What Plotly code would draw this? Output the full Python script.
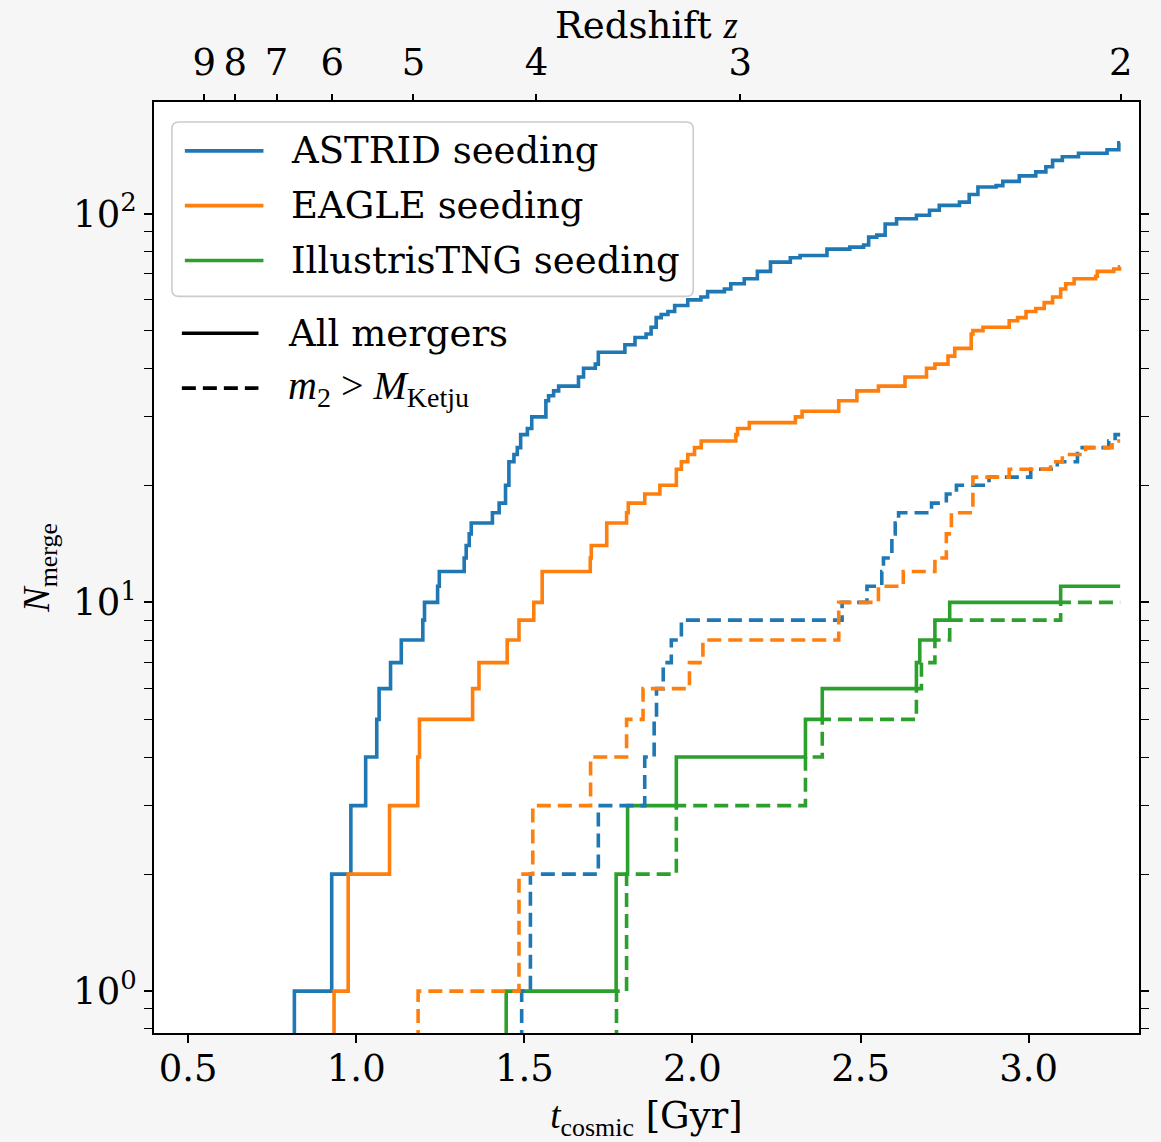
import plotly.graph_objects as go

# ---------------- data ----------------
T_END = 3.272  # cosmic time at z = 2 (end of the curves), Gyr

astrid_all_t = [0.816, 0.927, 0.984, 1.028, 1.061, 1.068, 1.102, 1.134, 1.198, 1.203,
                1.242, 1.247, 1.321, 1.327, 1.336, 1.342, 1.405, 1.425, 1.444, 1.454,
                1.469, 1.479, 1.489, 1.509, 1.522, 1.564, 1.572, 1.587, 1.602, 1.661,
                1.676, 1.711, 1.720, 1.799, 1.829, 1.862, 1.877, 1.892, 1.907, 1.927,
                1.947, 1.986, 2.025, 2.045, 2.095, 2.114, 2.154, 2.193, 2.232, 2.291,
                2.320, 2.400, 2.468, 2.509, 2.524, 2.548, 2.573, 2.607, 2.666, 2.705,
                2.734, 2.794, 2.823, 2.849, 2.903, 2.923, 2.972, 3.021, 3.051, 3.071,
                3.100, 3.148, 3.233, 3.268]
astrid_all_n = [1, 2, 3, 4, 5, 6, 7, 8, 9, 10,
                11, 12, 13, 14, 15, 16, 17, 18, 20, 23,
                24, 25, 27, 28, 30, 33, 34, 35, 36, 38,
                40, 41, 44, 46, 48, 49, 51, 54, 55, 56,
                58, 60, 61, 63, 64, 66, 68, 71, 75, 77,
                78, 81, 82, 83, 87, 88, 94, 97, 99, 102,
                105, 107, 112, 117, 118, 121, 125, 128, 132, 137,
                140, 143, 146, 152]

eagle_all_t = [0.934, 0.976, 1.099, 1.183, 1.188, 1.346, 1.365, 1.449, 1.484, 1.528,
               1.553, 1.696, 1.699, 1.745, 1.804, 1.809, 1.858, 1.903, 1.952, 1.967,
               1.986, 2.006, 2.026, 2.129, 2.134, 2.169, 2.306, 2.326, 2.435, 2.489,
               2.553, 2.632, 2.696, 2.721, 2.760, 2.780, 2.829, 2.834, 2.864, 2.942,
               2.967, 2.992, 3.021, 3.046, 3.071, 3.095, 3.110, 3.135, 3.199, 3.204,
               3.253, 3.270]
eagle_all_n = [1, 2, 3, 4, 5, 6, 7, 8, 9, 10,
               12, 13, 14, 16, 17, 18, 19, 20, 22, 23,
               24, 25, 26, 27, 28, 29, 30, 31, 33, 35,
               36, 38, 40, 41, 43, 45, 49, 50, 51, 53,
               54, 56, 57, 59, 61, 64, 66, 68, 69, 71,
               72, 73]

tng_all_t = [1.446, 1.773, 1.807, 1.952, 2.336, 2.386, 2.666, 2.676, 2.721, 2.765, 3.095]
tng_all_n = [1, 2, 3, 4, 5, 6, 7, 8, 9, 10, 11]

astrid_big_t = [1.492, 1.518, 1.720, 1.858, 1.886, 1.893, 1.913, 1.937, 1.967, 2.445,
                2.519, 2.563, 2.568, 2.593, 2.603, 2.613, 2.711, 2.755, 2.785, 2.882,
                3.006, 3.085, 3.145, 3.238, 3.257]
astrid_big_n = [1, 2, 3, 4, 5, 6, 7, 8, 9, 10,
                11, 12, 13, 15, 16, 17, 18, 19, 20, 21,
                22, 23, 25, 26, 27]

eagle_big_t = [1.184, 1.484, 1.525, 1.697, 1.804, 1.853, 1.991, 2.031, 2.435, 2.553,
               2.627, 2.721, 2.755, 2.770, 2.834, 2.942, 3.065, 3.100, 3.169, 3.248]
eagle_big_n = [1, 2, 3, 4, 5, 6, 7, 8, 10, 11,
               12, 13, 15, 17, 21, 22, 23, 24, 25, 26]

tng_big_t = [1.774, 1.804, 1.952, 2.336, 2.386, 2.666, 2.681, 2.721, 2.765, 3.095]
tng_big_n = [1, 2, 3, 4, 5, 6, 7, 8, 9, 10]

# top axis: redshift ticks and their cosmic time (Gyr)
z_labels = ["9", "8", "7", "6", "5", "4", "3", "2"]
z_tick_t = [0.548, 0.640, 0.763, 0.929, 1.170, 1.536, 2.142, 3.274]

x_tickvals = [0.5, 1.0, 1.5, 2.0, 2.5, 3.0]
x_ticktext = ["0.5", "1.0", "1.5", "2.0", "2.5", "3.0"]
y_tickvals = [1, 10, 100]
y_ticktext = ["10<sup>0</sup>", "10<sup>1</sup>", "10<sup>2</sup>"]

BLUE, ORANGE, GREEN = "#1f77b4", "#ff7f0e", "#2ca02c"
DASH = "14px,7px"
LW = 3.6
N_ZERO = 0.1  # stand-in for zero mergers (below the log axis)

SERIF = "DejaVu Serif"
MATH = "Liberation Serif"
FS = 37

# ---------------- figure ----------------
W, H = 1161, 1142
ML, MR, MT, MB = 154, 17, 102, 106
X_RANGE = [0.3985, 3.328]
Y_RANGE = [-0.1077, 2.287]

fig = go.Figure()

series = [
    (astrid_all_t, astrid_all_n, BLUE, "solid"),
    (eagle_all_t, eagle_all_n, ORANGE, "solid"),
    (tng_all_t, tng_all_n, GREEN, "solid"),
    (astrid_big_t, astrid_big_n, BLUE, DASH),
    (eagle_big_t, eagle_big_n, ORANGE, DASH),
    (tng_big_t, tng_big_n, GREEN, DASH),
]
for t, n, col, dash in series:
    xs = [t[0]] + list(t) + [T_END]
    ys = [N_ZERO] + list(n) + [n[-1]]
    fig.add_trace(go.Scatter(x=xs, y=ys, mode="lines",
                             line=dict(color=col, width=LW, dash=dash, shape="hv"),
                             showlegend=False, hoverinfo="skip"))

# invisible trace to anchor the top (redshift) axis
fig.add_trace(go.Scatter(x=z_tick_t, y=[1] * len(z_tick_t), xaxis="x2", yaxis="y",
                         mode="markers", marker=dict(opacity=0), showlegend=False,
                         hoverinfo="skip"))

tickfont = dict(family=SERIF, size=FS, color="black")

fig.update_layout(
    width=W, height=H,
    margin=dict(l=ML, r=MR, t=MT, b=MB, pad=0),
    paper_bgcolor="#f6f6f6",
    plot_bgcolor="white",
    xaxis=dict(
        range=X_RANGE, tickvals=x_tickvals, ticktext=x_ticktext,
        ticks="outside", ticklen=8, tickwidth=1.6, tickcolor="black",
        showline=True, linecolor="black", linewidth=1.8, mirror=True,
        showgrid=False, zeroline=False, tickfont=tickfont, ticklabelstandoff=-6,
        title=dict(text="<span style='font-family:Liberation Serif'><i>t</i><sub>cosmic</sub></span> [Gyr]",
                   font=dict(family=SERIF, size=FS, color="black"), standoff=14),
    ),
    xaxis2=dict(
        overlaying="x", side="top", range=X_RANGE,
        tickvals=z_tick_t, ticktext=z_labels,
        ticks="outside", ticklen=7, tickwidth=1.6, tickcolor="black",
        showline=False, showgrid=False, zeroline=False, tickfont=tickfont,
        ticklabelstandoff=4,
    ),
    yaxis=dict(
        type="log", range=Y_RANGE, tickvals=y_tickvals, ticktext=y_ticktext,
        ticks="outside", ticklen=8, tickwidth=1.6, tickcolor="black",
        showline=True, linecolor="black", linewidth=1.8, mirror="allticks",
        showgrid=False, zeroline=False, tickfont=tickfont,
        minor=dict(ticks="outside", ticklen=4.5, tickwidth=1.2, tickcolor="black",
                   dtick="D1", showgrid=False),
        title=dict(text="<i>N</i><sub>merge</sub>",
                   font=dict(family=MATH, size=FS, color="black"), standoff=12),
    ),
)


def px(x, y):
    """pixel position in the page -> paper coordinates"""
    pw = W - ML - MR
    ph = H - MT - MB
    return (x - ML) / pw, (H - MB - y) / ph


shapes = []
annotations = []

# top axis title
ta, tb = px(649, 25)
annotations.append(dict(text="Redshift <span style='font-family:Liberation Serif'><i>z</i></span>",
                        xref="paper", yref="paper", x=0.5, y=tb,
                        xanchor="center", yanchor="middle", showarrow=False,
                        font=dict(family=SERIF, size=FS, color="black")))

# legend frame (rounded)
bx0, by0, bx1, by1, r = 172, 122, 696, 297, 7


def P(x, y):
    a, b = px(x, y)
    return f"{a:.5f},{b:.5f}"


path = (f"M {P(bx0 + r, by0)} L {P(bx1 - r, by0)} Q {P(bx1, by0)} {P(bx1, by0 + r)} "
        f"L {P(bx1, by1 - r)} Q {P(bx1, by1)} {P(bx1 - r, by1)} "
        f"L {P(bx0 + r, by1)} Q {P(bx0, by1)} {P(bx0, by1 - r)} "
        f"L {P(bx0, by0 + r)} Q {P(bx0, by0)} {P(bx0 + r, by0)} Z")
shapes.append(dict(type="path", xref="paper", yref="paper", path=path,
                   fillcolor="rgba(255,255,255,0.8)", line=dict(color="#cccccc", width=1.6),
                   layer="above"))

leg_items = [
    (BLUE, "solid", 151, "ASTRID seeding", SERIF, 37, 185, 264, 290),
    (ORANGE, "solid", 206, "EAGLE seeding", SERIF, 37, 185, 264, 290),
    (GREEN, "solid", 261, "IllustrisTNG seeding", SERIF, 37, 185, 264, 290),
    ("black", "solid", 334, "All mergers", SERIF, 37, 182, 259, 287),
    ("black", DASH, 389,
     "<i>m</i><sub>2</sub> &gt; <i>M</i><sub>Ketju</sub>", MATH, 40, 182, 259, 287),
]
for col, dash, yy, text, fam, fsz, lx0, lx1, tx in leg_items:
    a0, b0 = px(lx0, yy)
    a1, _ = px(lx1, yy)
    shapes.append(dict(type="line", xref="paper", yref="paper", x0=a0, x1=a1, y0=b0, y1=b0,
                       line=dict(color=col, width=LW, dash=dash), layer="above"))
    ta, tb = px(tx, yy)
    annotations.append(dict(text=text, xref="paper", yref="paper", x=ta, y=tb,
                            xanchor="left", yanchor="middle", showarrow=False,
                            font=dict(family=fam, size=fsz, color="black")))

fig.update_layout(shapes=shapes, annotations=annotations)

fig.write_html("out.html")
